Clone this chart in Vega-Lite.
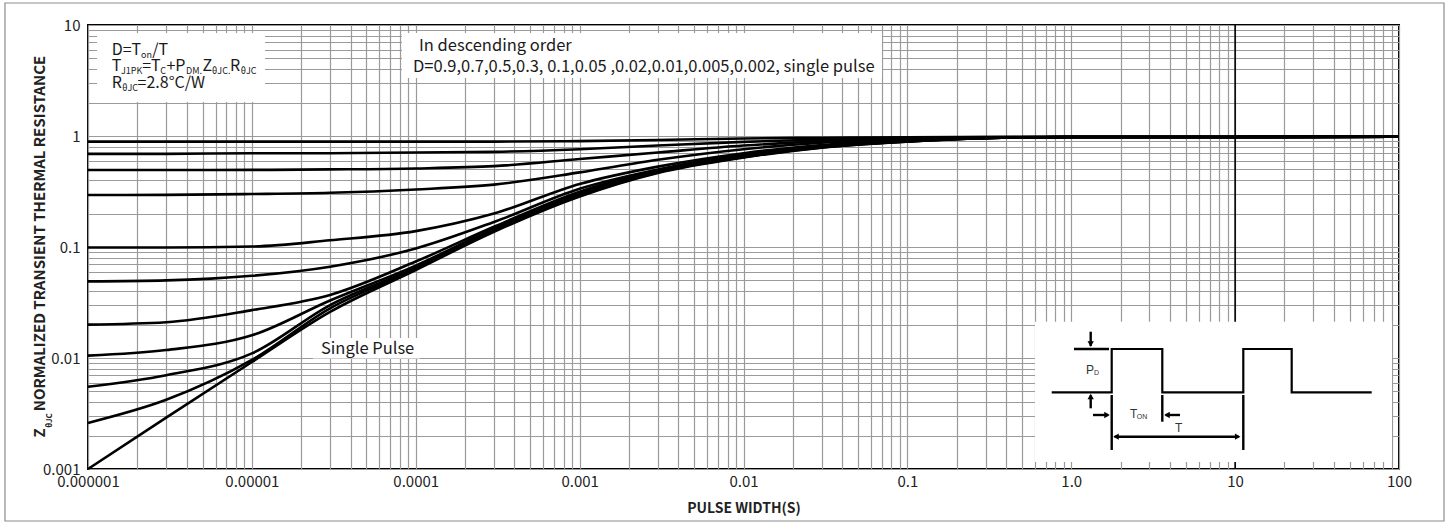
{
  "$schema": "https://vega.github.io/schema/vega-lite/v6.json",
  "width": 1311,
  "height": 444,
  "autosize": {"type": "none"},
  "padding": {"left": 88, "top": 25, "right": 51, "bottom": 56},
  "background": "white",
  "config": {
    "view": {"stroke": "#000000", "strokeWidth": 2},
    "font": "Noto Sans CJK SC"
  },
  "datasets": {
    "curves": [
      {"D":"0.9","x":0.000001,"y":0.89},{"D":"0.9","x":0.000003,"y":0.89},{"D":"0.9","x":0.00001,"y":0.89},{"D":"0.9","x":0.00003,"y":0.89},{"D":"0.9","x":0.0001,"y":0.89},{"D":"0.9","x":0.0003,"y":0.89},{"D":"0.9","x":0.001,"y":0.9},{"D":"0.9","x":0.003,"y":0.92},{"D":"0.9","x":0.01,"y":0.95},{"D":"0.9","x":0.03,"y":0.965},{"D":"0.9","x":0.1,"y":0.975},{"D":"0.9","x":0.3,"y":0.98},{"D":"0.9","x":1,"y":0.98},{"D":"0.9","x":10,"y":0.98},{"D":"0.9","x":100,"y":0.985},
      {"D":"0.7","x":0.000001,"y":0.69},{"D":"0.7","x":0.000003,"y":0.69},{"D":"0.7","x":0.00001,"y":0.7},{"D":"0.7","x":0.00003,"y":0.7},{"D":"0.7","x":0.0001,"y":0.71},{"D":"0.7","x":0.0003,"y":0.72},{"D":"0.7","x":0.001,"y":0.76},{"D":"0.7","x":0.003,"y":0.82},{"D":"0.7","x":0.01,"y":0.885},{"D":"0.7","x":0.03,"y":0.93},{"D":"0.7","x":0.1,"y":0.96},{"D":"0.7","x":0.3,"y":0.978},{"D":"0.7","x":1,"y":0.98},{"D":"0.7","x":10,"y":0.98},{"D":"0.7","x":100,"y":0.985},
      {"D":"0.5","x":0.000001,"y":0.494},{"D":"0.5","x":0.000003,"y":0.494},{"D":"0.5","x":0.00001,"y":0.495},{"D":"0.5","x":0.00003,"y":0.5},{"D":"0.5","x":0.0001,"y":0.51},{"D":"0.5","x":0.0003,"y":0.535},{"D":"0.5","x":0.001,"y":0.62},{"D":"0.5","x":0.003,"y":0.71},{"D":"0.5","x":0.01,"y":0.82},{"D":"0.5","x":0.03,"y":0.9},{"D":"0.5","x":0.1,"y":0.95},{"D":"0.5","x":0.3,"y":0.975},{"D":"0.5","x":1,"y":0.98},{"D":"0.5","x":10,"y":0.98},{"D":"0.5","x":100,"y":0.985},
      {"D":"0.3","x":0.000001,"y":0.294},{"D":"0.3","x":0.000003,"y":0.295},{"D":"0.3","x":0.00001,"y":0.3},{"D":"0.3","x":0.00003,"y":0.308},{"D":"0.3","x":0.0001,"y":0.33},{"D":"0.3","x":0.0003,"y":0.365},{"D":"0.3","x":0.001,"y":0.47},{"D":"0.3","x":0.003,"y":0.61},{"D":"0.3","x":0.01,"y":0.76},{"D":"0.3","x":0.03,"y":0.87},{"D":"0.3","x":0.1,"y":0.935},{"D":"0.3","x":0.3,"y":0.97},{"D":"0.3","x":1,"y":0.98},{"D":"0.3","x":10,"y":0.98},{"D":"0.3","x":100,"y":0.985},
      {"D":"0.1","x":0.000001,"y":0.099},{"D":"0.1","x":0.000003,"y":0.099},{"D":"0.1","x":0.00001,"y":0.101},{"D":"0.1","x":0.00003,"y":0.115},{"D":"0.1","x":0.0001,"y":0.139},{"D":"0.1","x":0.0003,"y":0.2},{"D":"0.1","x":0.001,"y":0.37},{"D":"0.1","x":0.003,"y":0.53},{"D":"0.1","x":0.01,"y":0.7},{"D":"0.1","x":0.03,"y":0.83},{"D":"0.1","x":0.1,"y":0.915},{"D":"0.1","x":0.3,"y":0.965},{"D":"0.1","x":1,"y":0.98},{"D":"0.1","x":10,"y":0.98},{"D":"0.1","x":100,"y":0.985},
      {"D":"0.05","x":0.000001,"y":0.049},{"D":"0.05","x":0.000003,"y":0.05},{"D":"0.05","x":0.00001,"y":0.055},{"D":"0.05","x":0.00003,"y":0.0665},{"D":"0.05","x":0.0001,"y":0.097},{"D":"0.05","x":0.0003,"y":0.168},{"D":"0.05","x":0.001,"y":0.335},{"D":"0.05","x":0.003,"y":0.5},{"D":"0.05","x":0.01,"y":0.68},{"D":"0.05","x":0.03,"y":0.815},{"D":"0.05","x":0.1,"y":0.91},{"D":"0.05","x":0.3,"y":0.962},{"D":"0.05","x":1,"y":0.98},{"D":"0.05","x":10,"y":0.98},{"D":"0.05","x":100,"y":0.985},
      {"D":"0.02","x":0.000001,"y":0.02},{"D":"0.02","x":0.000003,"y":0.021},{"D":"0.02","x":0.00001,"y":0.027},{"D":"0.02","x":0.00003,"y":0.037},{"D":"0.02","x":0.0001,"y":0.074},{"D":"0.02","x":0.0003,"y":0.152},{"D":"0.02","x":0.001,"y":0.315},{"D":"0.02","x":0.003,"y":0.49},{"D":"0.02","x":0.01,"y":0.665},{"D":"0.02","x":0.03,"y":0.805},{"D":"0.02","x":0.1,"y":0.905},{"D":"0.02","x":0.3,"y":0.96},{"D":"0.02","x":1,"y":0.98},{"D":"0.02","x":10,"y":0.98},{"D":"0.02","x":100,"y":0.985},
      {"D":"0.01","x":0.000001,"y":0.0105},{"D":"0.01","x":0.000003,"y":0.0118},{"D":"0.01","x":0.00001,"y":0.016},{"D":"0.01","x":0.00003,"y":0.033},{"D":"0.01","x":0.0001,"y":0.068},{"D":"0.01","x":0.0003,"y":0.147},{"D":"0.01","x":0.001,"y":0.305},{"D":"0.01","x":0.003,"y":0.48},{"D":"0.01","x":0.01,"y":0.655},{"D":"0.01","x":0.03,"y":0.8},{"D":"0.01","x":0.1,"y":0.9},{"D":"0.01","x":0.3,"y":0.958},{"D":"0.01","x":1,"y":0.98},{"D":"0.01","x":10,"y":0.98},{"D":"0.01","x":100,"y":0.985},
      {"D":"0.005","x":0.000001,"y":0.0055},{"D":"0.005","x":0.000003,"y":0.007},{"D":"0.005","x":0.00001,"y":0.011},{"D":"0.005","x":0.00003,"y":0.03},{"D":"0.005","x":0.0001,"y":0.065},{"D":"0.005","x":0.0003,"y":0.143},{"D":"0.005","x":0.001,"y":0.295},{"D":"0.005","x":0.003,"y":0.475},{"D":"0.005","x":0.01,"y":0.65},{"D":"0.005","x":0.03,"y":0.795},{"D":"0.005","x":0.1,"y":0.895},{"D":"0.005","x":0.3,"y":0.957},{"D":"0.005","x":1,"y":0.98},{"D":"0.005","x":10,"y":0.98},{"D":"0.005","x":100,"y":0.985},
      {"D":"0.002","x":0.000001,"y":0.0026},{"D":"0.002","x":0.000003,"y":0.0042},{"D":"0.002","x":0.00001,"y":0.0096},{"D":"0.002","x":0.00003,"y":0.028},{"D":"0.002","x":0.0001,"y":0.063},{"D":"0.002","x":0.0003,"y":0.14},{"D":"0.002","x":0.001,"y":0.29},{"D":"0.002","x":0.003,"y":0.47},{"D":"0.002","x":0.01,"y":0.645},{"D":"0.002","x":0.03,"y":0.79},{"D":"0.002","x":0.1,"y":0.893},{"D":"0.002","x":0.3,"y":0.956},{"D":"0.002","x":1,"y":0.98},{"D":"0.002","x":10,"y":0.98},{"D":"0.002","x":100,"y":0.985},
      {"D":"single","x":0.000001,"y":0.001},{"D":"single","x":0.000003,"y":0.0029},{"D":"single","x":0.00001,"y":0.0092},{"D":"single","x":0.00003,"y":0.026},{"D":"single","x":0.0001,"y":0.062},{"D":"single","x":0.0003,"y":0.137},{"D":"single","x":0.001,"y":0.285},{"D":"single","x":0.003,"y":0.465},{"D":"single","x":0.01,"y":0.64},{"D":"single","x":0.03,"y":0.785},{"D":"single","x":0.1,"y":0.89},{"D":"single","x":0.3,"y":0.955},{"D":"single","x":1,"y":0.98},{"D":"single","x":10,"y":0.98},{"D":"single","x":100,"y":0.985}
    ],
    "boxes": [
      {"name":"formula","x":0.0000011347,"x2":0.000012025,"y":8.472,"y2":2.024},
      {"name":"order","x":0.00008243,"x2":0.07002,"y":8.472,"y2":3.331},
      {"name":"single","x":0.0000236,"x2":0.0001061,"y":0.01514,"y2":0.0099},
      {"name":"inset","x":0.6008,"x2":90.64,"y":0.02123,"y2":0.001156}
    ],
    "frame": [{"x":0.00000031148,"x2":188.2,"y":15.78,"y2":0.00034}],
    "tenrule": [{"x":10,"y":0.001,"y2":10}],
    "mainText": [
      {"x":0.0000013949,"y":5.955,"text":"D=T"},
      {"x":0.0000024644,"y":5.955,"text":"/T"},
      {"x":0.0000013949,"y":4.272,"text":"T"},
      {"x":0.0000021417,"y":4.272,"text":"=T"},
      {"x":0.0000030091,"y":4.272,"text":"+P"},
      {"x":0.0000049897,"y":4.272,"text":"Z"},
      {"x":0.0000073536,"y":4.272,"text":"R"},
      {"x":0.0000013949,"y":3.003,"text":"R"},
      {"x":0.0000020076,"y":3.003,"text":"=2.8°C/W"}
    ],
    "bigText": [
      {"x":0.00010466,"y":6.47,"text":"In descending order"},
      {"x":0.0000962,"y":4.184,"text":"D=0.9,0.7,0.5,0.3, 0.1,0.05 ,0.02,0.01,0.005,0.002, single pulse"},
      {"x":0.0000264,"y":0.01205,"text":"Single Pulse"}
    ],
    "subText": [
      {"x":0.0000021059,"y":5.955,"text":"on"},
      {"x":0.00000159,"y":4.272,"text":"J1PK"},
      {"x":0.0000027625,"y":4.272,"text":"C"},
      {"x":0.0000039634,"y":4.272,"text":"DM."},
      {"x":0.0000057184,"y":4.272,"text":"θJC."},
      {"x":0.0000085486,"y":4.272,"text":"θJC"},
      {"x":0.0000016171,"y":3.003,"text":"θJC"}
    ],
    "wave": [
      {"i":0,"x":0.7599,"y":0.004909},
      {"i":1,"x":1.7655,"y":0.004909},
      {"i":2,"x":1.7655,"y":0.012055},
      {"i":3,"x":3.594,"y":0.012055},
      {"i":4,"x":3.594,"y":0.004909},
      {"i":5,"x":11.217,"y":0.004909},
      {"i":6,"x":11.217,"y":0.012055},
      {"i":7,"x":22.14,"y":0.012055},
      {"i":8,"x":22.14,"y":0.004909},
      {"i":9,"x":68.13,"y":0.004909}
    ],
    "segs": [
      {"x":1.0394,"x2":1.7,"y":0.012055,"y2":0.012055},
      {"x":1.7655,"x2":1.7655,"y":0.004642,"y2":0.001483},
      {"x":3.594,"x2":3.594,"y":0.004642,"y2":0.002668},
      {"x":11.217,"x2":11.217,"y":0.004642,"y2":0.001483},
      {"x":1.3142,"x2":1.3142,"y":0.017255,"y2":0.0128},
      {"x":1.3142,"x2":1.3142,"y":0.003522,"y2":0.0046},
      {"x":1.357,"x2":1.68,"y":0.003066,"y2":0.003066},
      {"x":4.609,"x2":3.76,"y":0.003066,"y2":0.003066},
      {"x":1.84,"x2":10.5,"y":0.001954,"y2":0.001954}
    ],
    "heads": [
      {"x":1.3142,"y":0.01337,"dir":"down"},
      {"x":1.3142,"y":0.0045,"dir":"up"},
      {"x":1.6526,"y":0.003066,"dir":"right"},
      {"x":3.8395,"y":0.003066,"dir":"left"},
      {"x":1.8756,"y":0.001954,"dir":"left"},
      {"x":10.368,"y":0.001954,"dir":"right"}
    ],
    "insetMain": [
      {"x":1.23,"y":0.007795,"text":"P"},
      {"x":2.283,"y":0.003162,"text":"T"},
      {"x":4.297,"y":0.002317,"text":"T"}
    ],
    "insetSub": [
      {"x":1.3766,"y":0.007326,"text":"D"},
      {"x":2.508,"y":0.002941,"text":"ON"}
    ],
    "yMain": [{"x":0.0000005095,"y":0.00211,"text":"Z"}],
    "ySub": [{"x":0.0000005862,"y":0.002735,"text":"θJC"}]
  },
  "encoding": {
    "x": {
      "field": "x",
      "type": "quantitative",
      "scale": {"type": "log", "domain": [0.000001, 100], "nice": false},
      "axis": {
        "values": [0.000001,0.000002,0.000003,0.000004,0.000005,0.000006,0.000007,0.000008,0.000009,0.00001,0.00002,0.00003,0.00004,0.00005,0.00006,0.00007,0.00008,0.00009,0.0001,0.0002,0.0003,0.0004,0.0005,0.0006,0.0007,0.0008,0.0009,0.001,0.002,0.003,0.004,0.005,0.006,0.007,0.008,0.009,0.01,0.02,0.03,0.04,0.05,0.06,0.07,0.08,0.09,0.1,0.2,0.3,0.4,0.5,0.6,0.7,0.8,0.9,1,2,3,4,5,6,7,8,9,10,20,30,40,50,60,70,80,90,100],
        "labelExpr": "datum.value == 1 ? '1.0' : (indexof([0.000001,0.00001,0.0001,0.001,0.01,0.1,10,100], datum.value) >= 0 ? format(datum.value, '~g') : '')",
        "grid": true,
        "gridColor": "#9a9a9a",
        "gridWidth": 1.2,
        "ticks": false,
        "domain": false,
        "labelFont": "Noto Sans CJK SC",
        "labelFontSize": 15,
        "labelColor": "#222222",
        "labelPadding": 5,
        "labelFlush": false,
        "labelOverlap": false,
        "labelBound": false,
        "title": "PULSE WIDTH(S)",
        "titleFont": "Noto Sans CJK SC",
        "titleFontSize": 14,
        "titleFontWeight": "bold",
        "titleColor": "#222222",
        "titleBaseline": "middle",
        "titleY": 39
      }
    },
    "y": {
      "field": "y",
      "type": "quantitative",
      "scale": {"type": "log", "domain": [0.001, 10], "nice": false},
      "axis": {
        "values": [0.001,0.002,0.003,0.004,0.005,0.006,0.007,0.008,0.009,0.01,0.02,0.03,0.04,0.05,0.06,0.07,0.08,0.09,0.1,0.2,0.3,0.4,0.5,0.6,0.7,0.8,0.9,1,2,3,4,5,6,7,8,9,10],
        "labelExpr": "indexof([0.001,0.01,0.1,1,10], datum.value) >= 0 ? format(datum.value, '~g') : ''",
        "grid": true,
        "gridColor": "#9a9a9a",
        "gridWidth": 1.2,
        "ticks": false,
        "domain": false,
        "labelFont": "Noto Sans CJK SC",
        "labelFontSize": 15,
        "labelColor": "#222222",
        "labelPadding": 8,
        "labelOverlap": false,
        "labelBound": false,
        "labelFlush": false,
        "title": "NORMALIZED TRANSIENT THERMAL RESISTANCE",
        "titleFont": "Noto Sans CJK SC",
        "titleFontSize": 15,
        "titleFontWeight": "bold",
        "titleColor": "#222222",
        "titleAngle": 270,
        "titleAlign": "center",
        "titleBaseline": "bottom",
        "titleX": -41,
        "titleY": 208
      }
    }
  },
  "layer": [
    {
      "data": {"name": "tenrule"},
      "mark": {"type": "rule", "color": "#000000", "strokeWidth": 1.6},
      "encoding": {"y2": {"field": "y2"}}
    },
    {
      "data": {"name": "curves"},
      "mark": {"type": "line", "color": "#000000", "strokeWidth": 2.6, "interpolate": "monotone"},
      "encoding": {"detail": {"field": "D", "type": "nominal"}}
    },
    {
      "data": {"name": "boxes"},
      "mark": {"type": "rect", "fill": "#ffffff", "strokeWidth": 0},
      "encoding": {"x2": {"field": "x2"}, "y2": {"field": "y2"}}
    },
    {
      "data": {"name": "frame"},
      "mark": {"type": "rect", "fill": "transparent", "stroke": "#8c8c8c", "strokeWidth": 1.2},
      "encoding": {"x2": {"field": "x2"}, "y2": {"field": "y2"}}
    },
    {
      "data": {"name": "mainText"},
      "mark": {"type": "text", "align": "left", "baseline": "middle", "fontSize": 16, "font": "Noto Sans CJK SC", "color": "#1a1a1a"},
      "encoding": {"text": {"field": "text"}}
    },
    {
      "data": {"name": "bigText"},
      "mark": {"type": "text", "align": "left", "baseline": "middle", "fontSize": 16.5, "font": "Noto Sans CJK SC", "color": "#1a1a1a"},
      "encoding": {"text": {"field": "text"}}
    },
    {
      "data": {"name": "subText"},
      "mark": {"type": "text", "align": "left", "baseline": "middle", "fontSize": 9, "dy": 5, "font": "Noto Sans CJK SC", "color": "#1a1a1a"},
      "encoding": {"text": {"field": "text"}}
    },
    {
      "data": {"name": "wave"},
      "mark": {"type": "line", "color": "#000000", "strokeWidth": 2.2},
      "encoding": {"order": {"field": "i", "type": "quantitative"}}
    },
    {
      "data": {"name": "segs"},
      "mark": {"type": "rule", "color": "#000000", "strokeWidth": 2.4},
      "encoding": {"x2": {"field": "x2"}, "y2": {"field": "y2"}}
    },
    {
      "data": {"name": "heads"},
      "mark": {"type": "point", "filled": true, "color": "#000000", "size": 40, "opacity": 1},
      "encoding": {
        "shape": {
          "field": "dir",
          "type": "nominal",
          "scale": {"domain": ["up", "down", "left", "right"], "range": ["triangle-up", "triangle-down", "triangle-left", "triangle-right"]},
          "legend": null
        }
      }
    },
    {
      "data": {"name": "insetMain"},
      "mark": {"type": "text", "align": "left", "baseline": "middle", "fontSize": 12, "font": "Liberation Sans", "color": "#333333"},
      "encoding": {"text": {"field": "text"}}
    },
    {
      "data": {"name": "insetSub"},
      "mark": {"type": "text", "align": "left", "baseline": "middle", "fontSize": 7, "font": "Liberation Sans", "color": "#333333"},
      "encoding": {"text": {"field": "text"}}
    },
    {
      "data": {"name": "yMain"},
      "mark": {"type": "text", "align": "center", "baseline": "middle", "angle": 270, "fontSize": 15, "fontWeight": "bold", "font": "Noto Sans CJK SC", "color": "#222222"},
      "encoding": {"text": {"field": "text"}}
    },
    {
      "data": {"name": "ySub"},
      "mark": {"type": "text", "align": "center", "baseline": "middle", "angle": 270, "fontSize": 8, "fontWeight": "bold", "font": "Noto Sans CJK SC", "color": "#222222"},
      "encoding": {"text": {"field": "text"}}
    }
  ]
}
